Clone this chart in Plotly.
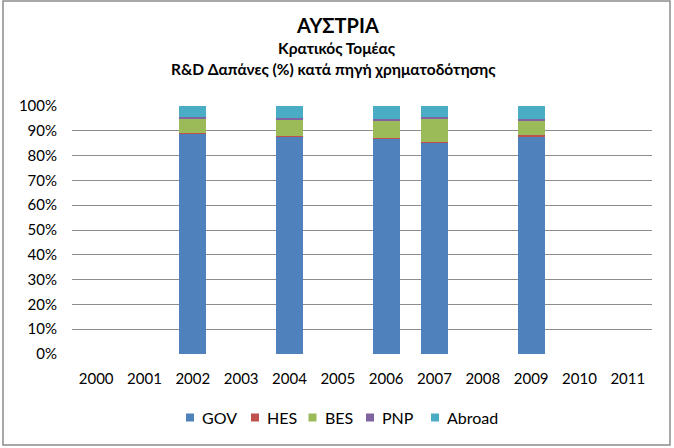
import plotly.graph_objs as go

# years on the axis, values in % (None where no data)
years = ['2000', '2001', '2002', '2003', '2004', '2005',
         '2006', '2007', '2008', '2009', '2010', '2011']
gov = [None, None, 88.9, None, 87.8, None, 86.8, 85.1, None, 87.8, None, None]
hes = [None, None, 0.2, None, 0.1, None, 0.5, 0.2, None, 0.4, None, None]
bes = [None, None, 5.8, None, 6.6, None, 6.9, 9.5, None, 6.0, None, None]
pnp = [None, None, 0.6, None, 0.7, None, 0.4, 0.6, None, 0.6, None, None]
abroad = [None, None, 4.5, None, 4.8, None, 5.4, 4.6, None, 5.2, None, None]

series = [('GOV', gov, '#4F81BD'), ('HES', hes, '#C0504D'), ('BES', bes, '#9BBB59'),
          ('PNP', pnp, '#8064A2'), ('Abroad', abroad, '#4BACC6')]

font = 'Lato, "Open Sans", sans-serif'

fig = go.Figure()
for name, vals, color in series:
	fig.add_trace(go.Bar(x=years, y=vals, name=name, marker=dict(color=color, line=dict(width=0)),
		width=0.56, showlegend=False))

# plot area is 72..652 px wide, 106..354 px tall
def px(x):
	return (x - 72) / 580.0

def py(y):
	return (354 - y) / 248.0

ann = [
	dict(text='<b>ΑΥΣΤΡΙΑ</b>', x=px(337), y=py(25), size=20, xanchor='center'),
	dict(text='<b>Κρατικός Τομέας</b>', x=px(337), y=py(48), size=15.5, xanchor='center'),
	dict(text='<b>R&D Δαπάνες (%) κατά πηγή χρηματοδότησης</b>', x=px(333), y=py(69), size=15.5, xanchor='center'),
]

shapes = [dict(type='rect', xref='paper', yref='paper', x0=px(3), x1=px(670), y0=py(445), y1=py(1),
	line=dict(color='#8c8c8c', width=1.5), layer='below')]

# legend drawn by hand, Excel style (square close to its label)
leg_x = [190, 255, 312.5, 370, 435]
for (name, vals, color), cx in zip(series, leg_x):
	shapes.append(dict(type='rect', xref='paper', yref='paper', x0=px(cx - 4), x1=px(cx + 4),
		y0=py(421.5), y1=py(413.5), fillcolor=color, line=dict(width=0)))
	ann.append(dict(text=name, x=px(cx + 10), y=py(417.5), size=16, xanchor='left'))

fig.update_layout(
	width=674, height=448,
	margin=dict(l=72, r=22, t=106, b=94),
	paper_bgcolor='white', plot_bgcolor='white',
	barmode='stack', bargap=0.44,
	font=dict(family=font, size=15, color='black'),
	showlegend=False,
	xaxis=dict(type='category', showgrid=False, showline=False, ticks='', zeroline=False,
		ticklabelstandoff=14),
	yaxis=dict(range=[0, 100], dtick=10, ticksuffix='%', showgrid=True, gridcolor='#8c8c8c',
		gridwidth=1, zeroline=False, showline=False, ticks='', ticklabelstandoff=14),
	annotations=[dict(text=a['text'], x=a['x'], y=a['y'], xref='paper', yref='paper',
		showarrow=False, xanchor=a['xanchor'], yanchor='middle', font=dict(size=a['size'], family=font))
		for a in ann],
	shapes=shapes,
)

fig.write_html("out.html", config={'displayModeBar': False},
	post_script="document.body.style.margin='0';")
